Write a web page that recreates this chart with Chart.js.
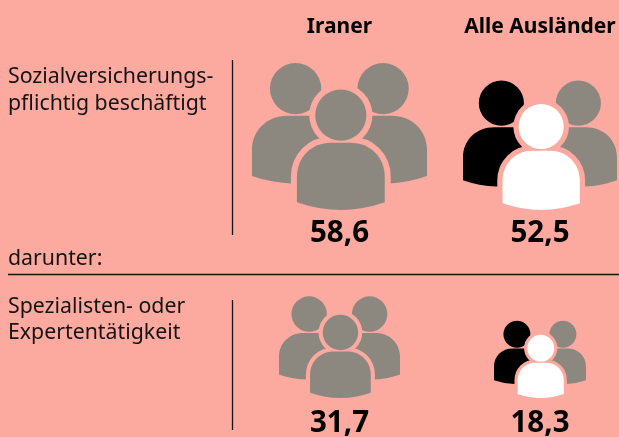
<!DOCTYPE html>
<html lang="de">
<head>
<meta charset="utf-8">
<style>
html,body{margin:0;padding:0;background:#fca9a0;overflow:hidden}
canvas{display:block}
</style>
<script src="https://cdn.jsdelivr.net/npm/chart.js@4"></script>
</head>
<body>
<canvas id="c" width="619" height="437"></canvas>
<script>
// Data
const groups = ['Iraner', 'Alle Ausländer'];
const rows = ['Sozialversicherungspflichtig beschäftigt', 'Spezialisten- oder Expertentätigkeit'];
const iranerValues = [58.6, 31.7];
const auslaenderValues = [52.5, 18.3];
const rowLabelLines = [['Sozialversicherungs-', 'pflichtig beschäftigt'], ['Spezialisten- oder', 'Expertentätigkeit']];
const subheading = 'darunter:';

// Layout and style
const BG = '#fca9a0', GRAY = '#8c8880', BLACK = '#000000', WHITE = '#ffffff', INK = '#141414';
const FONT = '"Noto Sans", sans-serif';
const iranerWidths = [175, 121];
const auslaenderWidths = [154, 92];
const iranerColors = [GRAY, GRAY, GRAY];
const auslaenderColors = [BLACK, GRAY, WHITE];
const valueBaselines = [242, 432];
const rowLabelBaselines = [[83, 110], [313, 339]];
const ruleSpans = [[60, 235], [300, 430]];

function iconCanvas(width, colors) {
  const u = width / 526;               // drawing units of the icon
  const H = 442 * u;
  const cv = document.createElement('canvas');
  cv.width = Math.ceil(width) + 2;
  cv.height = Math.ceil(H) * 2;
  const g = cv.getContext('2d');
  g.translate(cv.width / 2, cv.height / 2);
  g.scale(u, u);
  g.translate(-299, -480);             // icon origin: bottom centre

  const circle = (x, y) => { g.beginPath(); g.arc(x, y, 77, 0, Math.PI * 2); g.fill(); };
  g.fillStyle = colors[0];
  circle(167, 115);
  g.beginPath();
  g.moveTo(36, 378); g.lineTo(36, 300);
  g.bezierCurveTo(36, 240, 82, 197, 142, 197);
  g.lineTo(300, 197); g.lineTo(300, 410); g.lineTo(152, 400);
  g.quadraticCurveTo(90, 397, 36, 378);
  g.closePath(); g.fill();

  g.fillStyle = colors[1];
  circle(430, 115);
  g.beginPath();
  g.moveTo(562, 378); g.lineTo(562, 300);
  g.bezierCurveTo(562, 240, 516, 197, 456, 197);
  g.lineTo(300, 197); g.lineTo(300, 410); g.lineTo(452, 400);
  g.quadraticCurveTo(508, 397, 562, 378);
  g.closePath(); g.fill();

  const frontBody = () => {
    g.beginPath();
    g.moveTo(171, 457); g.lineTo(171, 380);
    g.bezierCurveTo(171, 322, 215, 278, 273, 278);
    g.lineTo(333, 278);
    g.bezierCurveTo(391, 278, 435, 322, 435, 380);
    g.lineTo(435, 457);
    g.quadraticCurveTo(303, 503, 171, 457);
    g.closePath();
  };
  // halo round the front person
  g.fillStyle = BG; g.strokeStyle = BG; g.lineWidth = 36; g.lineJoin = 'round';
  g.beginPath(); g.arc(303, 195, 95, 0, Math.PI * 2); g.fill();
  frontBody(); g.stroke(); g.fill();

  g.fillStyle = colors[2];
  circle(303, 195);
  frontBody(); g.fill();
  return cv;
}

const textPlugin = {
  id: 'texts',
  afterDatasetsDraw(chart) {
    const g = chart.ctx, xs = chart.scales.x;
    g.save();
    g.textBaseline = 'alphabetic';
    // separators
    g.strokeStyle = INK; g.lineWidth = 1.3;
    ruleSpans.forEach(s => { g.beginPath(); g.moveTo(232.5, s[0]); g.lineTo(232.5, s[1]); g.stroke(); });
    g.beginPath(); g.moveTo(8, 274.5); g.lineTo(619, 274.5); g.stroke();
    // column headers
    g.fillStyle = '#000'; g.textAlign = 'center';
    g.font = '700 21px ' + FONT;
    groups.forEach((n, i) => g.fillText(n, xs.getPixelForValue(i), 33));
    // values
    g.font = '700 29.5px ' + FONT;
    [iranerValues, auslaenderValues].forEach((vals, i) => vals.forEach((v, r) => {
      g.fillText(v.toFixed(1).replace('.', ','), xs.getPixelForValue(i), valueBaselines[r]);
    }));
    // row labels
    g.textAlign = 'left'; g.fillStyle = INK;
    g.font = '400 21.3px ' + FONT;
    rowLabelLines.forEach((lines, r) => lines.forEach((t, k) => g.fillText(t, 8, rowLabelBaselines[r][k])));
    g.fillText(subheading, 8, 265);
    g.restore();
  }
};

const makeDataset = (name, group, values, widths, colors) => ({
  label: name,
  data: values.map((v, r) => ({ x: group, y: rows[r], value: v })),
  pointStyle: widths.map(w => iconCanvas(w, colors)),
  pointRadius: 10,
  clip: false
});

new Chart(document.getElementById('c'), {
  type: 'scatter',
  data: {
    datasets: [
      makeDataset(groups[0], groups[0], iranerValues, iranerWidths, iranerColors),
      makeDataset(groups[1], groups[1], auslaenderValues, auslaenderWidths, auslaenderColors)
    ]
  },
  options: {
    responsive: false,
    animation: false,
    layout: { padding: { left: 339.5, right: 79, top: 210, bottom: 39 } },
    plugins: { legend: { display: false }, tooltip: { enabled: false } },
    scales: {
      x: { type: 'category', labels: groups, offset: false, display: false },
      y: { type: 'category', labels: rows, offset: false, display: false }
    }
  },
  plugins: [textPlugin]
});
</script>
</body>
</html>
